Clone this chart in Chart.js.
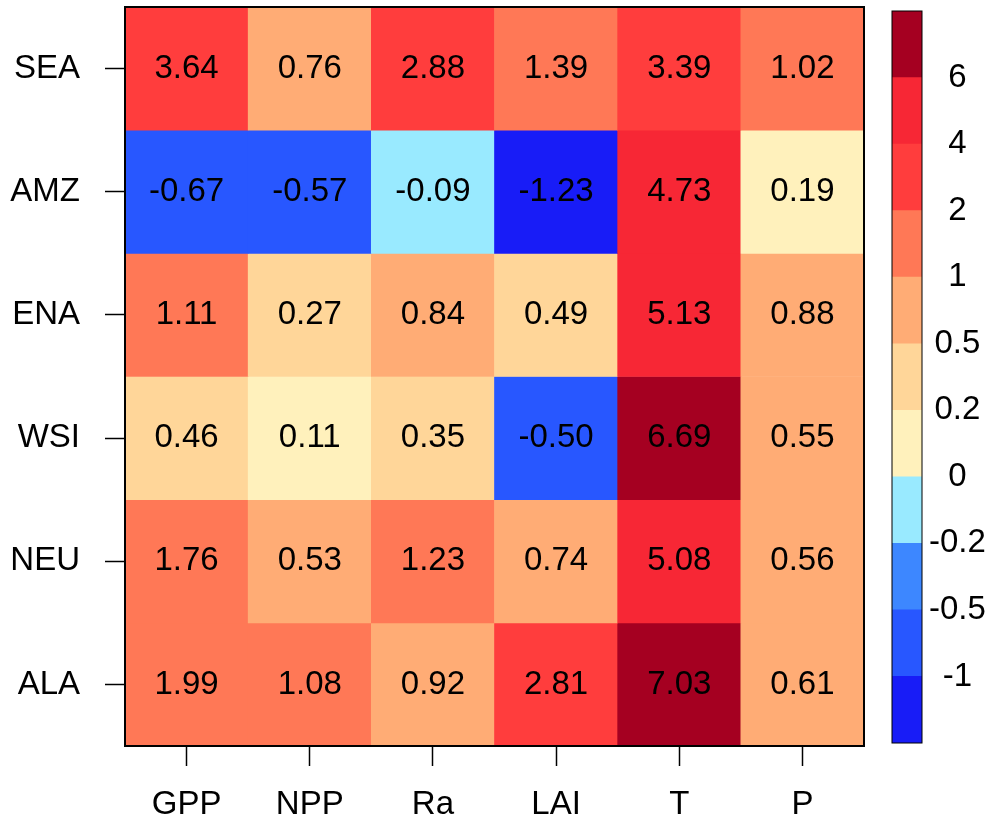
<!DOCTYPE html>
<html>
<head>
<meta charset="utf-8">
<title>Regional heatmap</title>
<script src="https://cdn.jsdelivr.net/npm/chart.js@4"></script>
<style>
  body { margin: 0; background: #fff; }
  #wrap { position: relative; width: 992px; height: 825px; }
  #heatChart { position: absolute; left: 0; top: 0; }
  #keyChart { position: absolute; left: 880px; top: 0; }
</style>
</head>
<body>
<div id="wrap">
  <canvas id="heatChart" width="880" height="825"></canvas>
  <canvas id="keyChart" width="112" height="825"></canvas>
</div>
<script>
// Rows, top to bottom
const regions = ['SEA', 'AMZ', 'ENA', 'WSI', 'NEU', 'ALA'];
const variables = ['GPP', 'NPP', 'Ra', 'LAI', 'T', 'P'];

// One array per variable, in the same order as regions
const gpp  = [3.64, -0.67, 1.11, 0.46, 1.76, 1.99];
const npp  = [0.76, -0.57, 0.27, 0.11, 0.53, 1.08];
const ra   = [2.88, -0.09, 0.84, 0.35, 1.23, 0.92];
const lai  = [1.39, -1.23, 0.49, -0.50, 0.74, 2.81];
const temp = [3.39, 4.73, 5.13, 6.69, 5.08, 7.03];
const prec = [1.02, 0.19, 0.88, 0.55, 0.56, 0.61];

// Colour key: boundaries between the bins and their labels
const levels = [-1, -0.5, -0.2, 0, 0.2, 0.5, 1, 2, 4, 6];
const levelLabels = ['-1', '-0.5', '-0.2', '0', '0.2', '0.5', '1', '2', '4', '6'];
const palette = [
    'rgb(24, 28, 247)',
    'rgb(40, 87, 255)',
    'rgb(61, 135, 255)',
    'rgb(153, 234, 255)',
    'rgb(255, 241, 188)',
    'rgb(255, 214, 153)',
    'rgb(255, 172, 117)',
    'rgb(255, 120, 86)',
    'rgb(255, 61, 61)',
    'rgb(247, 39, 53)',
    'rgb(165, 0, 33)'
];

const columns = [gpp, npp, ra, lai, temp, prec];
const FONT = '"Liberation Sans", Arial, Helvetica, sans-serif';

Chart.defaults.font.family = FONT;
Chart.defaults.color = '#000';

function colorFor(v) {
    const k = levels.filter(l => l < v).length;
    return palette[k];
}

// no extra room for labels at the ends of an axis
function noEndPadding(scale) {
    scale.paddingTop = 0;
    scale.paddingBottom = 0;
    scale.paddingLeft = 0;
    scale.paddingRight = 0;
}

// Black box round the plot area
function framePlugin(width) {
    return {
        id: 'frame',
        afterDatasetsDraw(chart) {
            const a = chart.chartArea;
            const ctx = chart.ctx;
            ctx.save();
            ctx.strokeStyle = '#000';
            ctx.lineWidth = width;
            ctx.strokeRect(a.left, a.top, a.right - a.left, a.bottom - a.top);
            ctx.restore();
        }
    };
}

// Numbers written in the middle of every cell
const cellLabels = {
    id: 'cellLabels',
    afterDatasetsDraw(chart) {
        const ctx = chart.ctx;
        ctx.save();
        ctx.font = '33px ' + FONT;
        ctx.fillStyle = '#000';
        ctx.textAlign = 'center';
        ctx.textBaseline = 'middle';
        chart.data.datasets.forEach((ds, i) => {
            chart.getDatasetMeta(i).data.forEach((bar, j) => {
                const y = (bar.y + bar.base) / 2;
                ctx.fillText(columns[j][i].toFixed(2), bar.x, y);
            });
        });
        ctx.restore();
    }
};

const heatDatasets = regions.map((r, i) => ({
    label: r,
    data: variables.map(() => [i, i + 1]),
    backgroundColor: columns.map(col => colorFor(col[i])),
    borderWidth: 0
}));

new Chart(document.getElementById('heatChart'), {
    type: 'bar',
    data: { labels: variables, datasets: heatDatasets },
    options: {
        responsive: false,
        animation: false,
        devicePixelRatio: 1,
        layout: { autoPadding: false, padding: { top: 7, right: 16, left: 0, bottom: 0 } },
        plugins: { legend: { display: false }, tooltip: { enabled: false } },
        datasets: { bar: { grouped: false, barPercentage: 1, categoryPercentage: 1 } },
        scales: {
            x: {
                offset: true,
                border: { display: false },
                grid: {
                    offset: false,
                    drawOnChartArea: false,
                    tickLength: 20,
                    tickWidth: 1.5,
                    tickColor: '#000'
                },
                ticks: { font: { size: 33 }, padding: 19, maxRotation: 0 },
                afterFit(scale) { scale.height = 79; noEndPadding(scale); }
            },
            y: {
                type: 'linear',
                min: 0,
                max: 6,
                reverse: true,
                border: { display: false },
                grid: {
                    drawOnChartArea: false,
                    tickLength: 20,
                    tickWidth: 1.5,
                    tickColor: '#000'
                },
                afterBuildTicks(scale) {
                    scale.ticks = regions.map((r, i) => ({ value: i + 0.5 }));
                },
                ticks: {
                    font: { size: 33 },
                    padding: 25,
                    autoSkip: false,
                    callback: (v, i) => regions[i]
                },
                afterFit(scale) { scale.width = 125; noEndPadding(scale); }
            }
        }
    },
    plugins: [cellLabels, framePlugin(2)]
});

// Colour key
const keyDatasets = palette.map((c, k) => ({
    label: levelLabels[k] || '',
    data: [[k, k + 1]],
    backgroundColor: c,
    borderWidth: 0
}));

new Chart(document.getElementById('keyChart'), {
    type: 'bar',
    data: { labels: [''], datasets: keyDatasets },
    options: {
        responsive: false,
        animation: false,
        devicePixelRatio: 1,
        layout: { autoPadding: false, padding: { top: 11, right: 0, left: 12, bottom: 82 } },
        plugins: { legend: { display: false }, tooltip: { enabled: false } },
        datasets: { bar: { grouped: false, barPercentage: 1, categoryPercentage: 1 } },
        scales: {
            x: { display: false },
            y: {
                type: 'linear',
                position: 'right',
                min: 0,
                max: 11,
                border: { display: false },
                grid: { display: false, drawTicks: false },
                afterBuildTicks(scale) {
                    scale.ticks = levels.map((l, k) => ({ value: k + 1 }));
                },
                ticks: {
                    font: { size: 33 },
                    padding: 7,
                    crossAlign: 'center',
                    autoSkip: false,
                    callback: (v, i) => levelLabels[i]
                },
                afterFit(scale) { scale.width = 70; noEndPadding(scale); }
            }
        }
    },
    plugins: [framePlugin(1)]
});
</script>
</body>
</html>
